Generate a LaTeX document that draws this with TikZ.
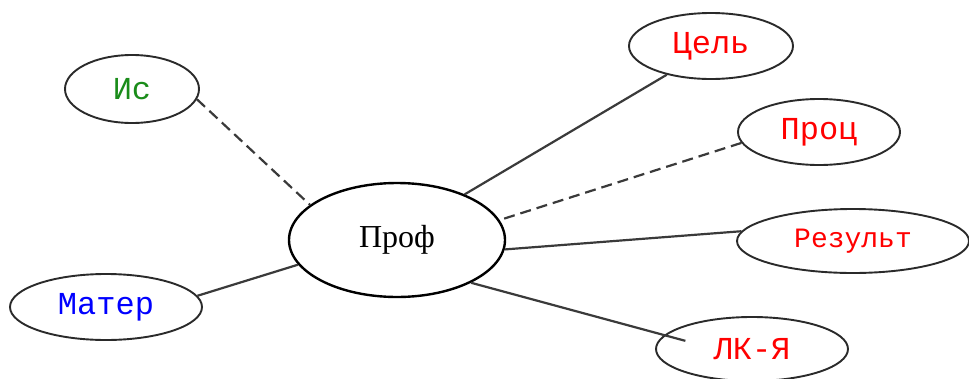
\documentclass[tikz,border=0pt]{standalone}
\usepackage{fontspec}
\setmainfont{Liberation Serif}
\newfontfamily\courfont{Liberation Mono}
\usetikzlibrary{shapes.geometric}
\definecolor{edgegray}{HTML}{3A3A3A}
\definecolor{rimgray}{HTML}{2A2A2A}
\definecolor{isgreen}{HTML}{1A8C1A}
\tikzset{
  outer/.style={ellipse, draw=rimgray, line width=1.9pt, inner sep=0pt, fill=white,
    font=\courfont\fontsize{32}{36}\selectfont},
  centre/.style={ellipse, draw=black, line width=2.4pt, inner sep=0pt, fill=white,
    font=\fontsize{32}{36}\selectfont},
  solidlink/.style={draw=edgegray, line width=2.2pt},
  dashlink/.style={draw=edgegray, line width=2.2pt, dash pattern=on 11pt off 6pt},
}
\begin{document}
\begin{tikzpicture}[x=1pt,y=-1pt]
\useasboundingbox (0,0) rectangle (969,378);
\fill[white] (0,0) rectangle (969,378);
\node[centre, minimum width=216pt, minimum height=114pt] (prof) at (397,240) {Проф};
\node[outer, minimum width=134pt, minimum height=68pt, text=isgreen] (is) at (132,89) {Ис};
\node[outer, minimum width=164pt, minimum height=66pt, text=red] (cel) at (711,46) {Цель};
\node[outer, minimum width=162pt, minimum height=66pt, text=red] (proc) at (819,132) {Проц};
\node[outer, minimum width=232pt, minimum height=64pt, text=red,
      font=\courfont\fontsize{28}{30}\selectfont] (res) at (853,241) {Результ};
\node[outer, minimum width=192pt, minimum height=64pt, text=red] (lk) at (752,349) {ЛК-Я};
\node[outer, minimum width=192pt, minimum height=66pt, text=blue] (mat) at (106,307) {Матер};
\draw[dashlink] (is.-9) -- (prof.158);
\draw[solidlink] (cel.-147) -- (prof.34);
\draw[dashlink] (proc.-172) -- (prof.11);
\draw[solidlink] (res.175) -- (prof.-5);
\draw[solidlink, shorten <=-22pt] (lk.171) -- (prof.-30);
\draw[solidlink] (mat.7) -- (prof.-166);
\end{tikzpicture}
\end{document}
